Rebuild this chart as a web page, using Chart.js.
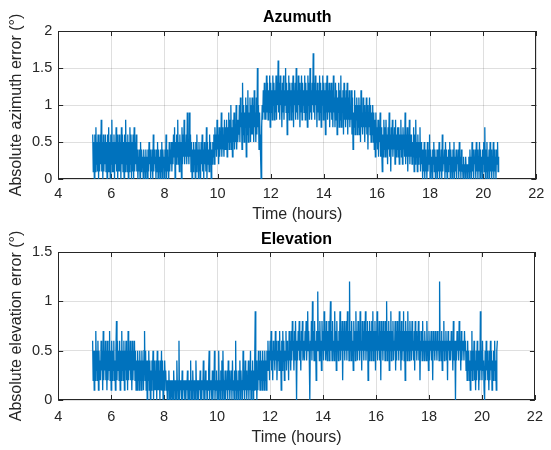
<!DOCTYPE html>
<html>
<head>
<meta charset="utf-8">
<script src="https://cdn.jsdelivr.net/npm/chart.js@4.4.1/dist/chart.umd.min.js"></script>
<style>
body { margin: 0; background: #fff; }
#wrap { position: relative; width: 551px; height: 450px; }
canvas { position: absolute; left: 0; }
</style>
</head>
<body>
<div id="wrap">
    <canvas id="azChart" width="551" height="225" style="top:0px"></canvas>
    <canvas id="elChart" width="551" height="225" style="top:225px"></canvas>
</div>
<script>
// time axis: one sample every 0.02 h from 5.3 h
const tStart = 5.3;
const tStep = 0.02;
const xTicks = [4, 6, 8, 10, 12, 14, 16, 18, 20, 22];
const azTicks = [0, 0.5, 1, 1.5, 2];
const elTicks = [0, 0.5, 1, 1.5];

// absolute azimuth error (deg), one row per half hour starting 5.3, 5.8, 6.3 ...
const azimuthErr = [
    0.6,0.1,0.5,0.0,0.6,0.1,0.7,0.2,0.5,0.1,0.6,0.0,0.5,0.1,0.6,0.2,0.8,0.1,0.5,0.0,0.6,0.1,0.5,0.2,0.6,
    0.1,0.5,0.0,0.6,0.1,0.7,0.1,0.5,0.0,0.6,0.2,0.8,0.1,0.5,0.1,0.6,0.0,0.5,0.2,0.7,0.1,0.6,0.0,0.5,0.1,
    0.6,0.1,0.5,0.0,0.7,0.2,0.6,0.1,0.5,0.0,0.6,0.1,0.8,0.2,0.5,0.1,0.6,0.0,0.5,0.1,0.7,0.2,0.6,0.0,0.5,
    0.1,0.6,0.0,0.7,0.1,0.5,0.2,0.6,0.1,0.4,0.0,0.3,0.1,0.4,0.0,0.5,0.1,0.4,0.2,0.3,0.0,0.4,0.1,0.3,0.0,
    0.4,0.1,0.3,0.0,0.4,0.1,0.5,0.2,0.4,0.0,0.3,0.1,0.4,0.0,0.6,0.1,0.4,0.2,0.3,0.0,0.4,0.1,0.5,0.0,0.4,
    0.1,0.3,0.0,0.4,0.1,0.5,0.0,0.4,0.2,0.3,0.0,0.4,0.1,0.6,0.0,0.4,0.1,0.3,0.0,0.5,0.1,0.4,0.2,0.5,0.1,
    0.5,0.2,0.6,0.3,0.7,0.0,0.5,0.2,0.6,0.3,0.8,0.2,0.5,0.1,0.6,0.3,0.5,0.0,0.7,0.2,0.6,0.3,0.8,0.2,0.5,
    0.3,0.6,0.2,0.9,0.3,0.5,0.2,0.9,0.3,0.6,0.1,0.5,0.0,0.4,0.1,0.5,0.2,0.4,0.0,0.5,0.1,0.6,0.2,0.4,0.0,
    0.5,0.1,0.4,0.0,0.5,0.2,0.6,0.1,0.4,0.0,0.5,0.2,0.4,0.1,0.7,0.0,0.5,0.2,0.4,0.1,0.6,0.2,0.5,0.0,0.4,
    0.2,0.5,0.3,0.6,0.2,0.7,0.4,0.6,0.3,0.8,0.4,0.6,0.2,0.7,0.3,0.6,0.4,0.9,0.3,0.7,0.4,0.6,0.3,0.8,0.4,
    0.7,0.4,0.8,0.3,0.7,0.5,0.9,0.4,0.8,0.5,1.0,0.4,0.7,0.3,0.8,0.5,0.9,0.4,0.7,0.5,1.0,0.4,0.8,0.5,0.7,
    0.6,1.0,0.5,1.1,0.7,0.9,0.4,1.3,0.6,1.0,0.5,0.9,0.7,1.1,0.3,1.0,0.6,1.2,0.5,0.9,0.7,1.1,0.5,1.0,0.6,
    1.1,0.6,1.0,0.5,1.2,0.7,0.9,0.5,1.1,0.6,1.5,0.7,1.0,0.4,0.9,0.6,0.3,0.0,0.7,1.0,0.8,1.2,0.9,1.3,0.8,
    1.2,0.8,1.4,0.9,1.3,0.8,1.2,0.9,1.4,0.7,1.3,0.9,1.2,0.8,1.4,1.0,1.3,0.8,1.2,0.9,1.4,0.8,1.3,1.0,1.6,
    0.9,1.3,0.8,1.4,1.0,1.2,0.7,1.3,0.9,1.4,0.8,1.2,1.0,1.5,0.9,1.3,0.6,1.2,0.9,1.4,0.8,1.3,1.0,1.2,0.8,
    1.3,0.9,1.4,0.7,1.2,1.0,1.3,0.8,1.5,0.9,1.2,0.8,1.4,1.0,1.3,0.7,1.2,0.9,1.4,0.8,1.3,1.0,1.2,0.9,1.4,
    0.8,1.3,0.9,1.2,0.7,1.4,1.0,1.3,0.8,1.5,0.9,1.2,0.8,1.3,1.0,1.7,0.9,1.3,0.8,1.4,1.0,1.2,0.7,1.3,0.9,
    1.2,0.8,1.4,0.9,1.3,0.7,1.2,1.0,1.4,0.8,1.3,0.9,1.2,0.6,1.3,0.9,1.4,0.8,1.2,0.9,1.3,0.7,1.2,0.9,1.3,
    0.8,1.2,0.7,1.4,0.9,1.1,0.7,1.3,0.8,1.2,0.6,1.1,0.9,1.3,0.7,1.2,0.8,1.4,0.7,1.1,0.9,1.2,0.6,1.3,0.8,
    1.1,0.7,1.2,0.8,1.3,0.6,1.1,0.8,1.2,0.7,1.0,0.8,1.2,0.6,1.1,0.4,0.9,0.7,1.2,0.6,1.0,0.8,1.1,0.6,1.0,
    0.7,1.1,0.6,1.0,0.5,1.2,0.7,0.9,0.6,1.1,0.7,1.0,0.5,0.9,0.7,1.1,0.6,1.0,0.4,0.9,0.7,1.1,0.6,1.0,0.5,
    0.9,0.6,1.0,0.5,0.9,0.4,0.8,0.3,0.9,0.5,0.7,0.4,0.8,0.3,0.7,0.5,0.9,0.3,0.7,0.4,0.1,0.6,0.3,0.8,0.4,
    0.7,0.3,0.8,0.4,0.6,0.2,0.7,0.4,0.9,0.3,0.6,0.1,0.7,0.4,0.8,0.3,0.6,0.4,0.7,0.2,0.8,0.3,0.6,0.4,0.7,
    0.3,0.7,0.2,0.6,0.4,0.8,0.3,0.6,0.2,0.7,0.4,0.6,0.3,0.9,0.2,0.6,0.3,0.7,0.1,0.6,0.3,0.8,0.2,0.6,0.3,
    0.6,0.2,0.5,0.3,0.7,0.1,0.6,0.2,0.8,0.3,0.5,0.1,0.6,0.2,0.5,0.3,0.7,0.1,0.5,0.2,0.4,0.0,0.4,0.1,0.5,
    0.0,0.4,0.1,0.3,0.0,0.5,0.1,0.4,0.2,0.6,0.0,0.4,0.1,0.3,0.0,0.4,0.2,0.5,0.1,0.4,0.0,0.3,0.1,0.4,0.0,
    0.4,0.1,0.5,0.0,0.3,0.1,0.4,0.0,0.6,0.1,0.3,0.2,0.4,0.0,0.5,0.1,0.4,0.0,0.3,0.1,0.4,0.2,0.5,0.0,0.4,
    0.1,0.3,0.0,0.4,0.1,0.5,0.0,0.3,0.1,0.4,0.0,0.3,0.2,0.4,0.0,0.5,0.1,0.3,0.0,0.4,0.1,0.2,0.0,0.3,0.1,
    0.2,0.0,0.3,0.1,0.2,0.0,0.2,0.1,0.3,0.0,0.4,0.1,0.3,0.0,0.5,0.1,0.4,0.0,0.3,0.2,0.4,0.0,0.5,0.1,0.4,
    0.0,0.3,0.1,0.5,0.0,0.4,0.1,0.3,0.0,0.4,0.2,0.5,0.1,0.7,0.0,0.4,0.1,0.5,0.0,0.3,0.1,0.4,0.0,0.5,0.1,
    0.4,0.0,0.3,0.1,0.5,0.0,0.4,0.1,0.3,0.0,0.4,0.2,0.5,0.1,0.3
];

// absolute elevation error (deg), same rows
const elevationErr = [
    0.6,0.2,0.5,0.1,0.5,0.2,0.7,0.3,0.5,0.2,0.6,0.1,0.5,0.2,0.4,0.2,0.6,0.3,0.5,0.1,0.7,0.2,0.5,0.3,0.6,
    0.2,0.5,0.1,0.6,0.2,0.5,0.3,0.7,0.2,0.5,0.1,0.6,0.2,0.5,0.3,0.6,0.2,0.4,0.1,0.5,0.8,0.2,0.6,0.3,0.5,
    0.2,0.6,0.1,0.5,0.2,0.7,0.3,0.5,0.2,0.6,0.1,0.5,0.3,0.6,0.2,0.5,0.1,0.7,0.2,0.5,0.3,0.6,0.2,0.5,0.1,
    0.6,0.2,0.5,0.3,0.6,0.2,0.5,0.1,0.4,0.1,0.5,0.2,0.4,0.1,0.5,0.2,0.4,0.1,0.5,0.2,0.4,0.1,0.5,0.7,0.2,
    0.5,0.1,0.4,0.0,0.4,0.2,0.5,0.1,0.4,0.0,0.3,0.1,0.4,0.2,0.5,0.0,0.4,0.1,0.3,0.1,0.4,0.0,0.5,0.1,0.4,
    0.1,0.3,0.0,0.4,0.1,0.5,0.1,0.4,0.0,0.3,0.1,0.4,0.2,0.3,0.1,0.2,0.0,0.2,0.1,0.3,0.0,0.2,0.0,0.2,0.1,
    0.0,0.2,0.0,0.3,0.1,0.2,0.0,0.2,0.0,0.4,0.1,0.2,0.0,0.6,0.0,0.2,0.1,0.2,0.0,0.3,0.0,0.2,0.1,0.2,0.0,
    0.2,0.0,0.2,0.1,0.3,0.0,0.2,0.0,0.2,0.1,0.4,0.0,0.2,0.0,0.3,0.1,0.2,0.0,0.2,0.0,0.4,0.1,0.2,0.0,0.2,
    0.0,0.2,0.1,0.3,0.0,0.2,0.0,0.2,0.1,0.4,0.0,0.2,0.0,0.3,0.1,0.2,0.0,0.2,0.1,0.3,0.5,0.0,0.2,0.1,0.2,
    0.0,0.3,0.0,0.2,0.1,0.5,0.0,0.2,0.1,0.3,0.0,0.2,0.0,0.5,0.1,0.2,0.0,0.3,0.1,0.4,0.0,0.5,0.1,0.2,0.0,
    0.3,0.0,0.2,0.1,0.3,0.0,0.4,0.1,0.3,0.0,0.2,0.1,0.3,0.0,0.4,0.1,0.2,0.0,0.3,0.1,0.6,0.0,0.3,0.1,0.2,
    0.0,0.3,0.1,0.4,0.0,0.3,0.1,0.2,0.0,0.5,0.1,0.3,0.0,0.4,0.1,0.3,0.0,0.2,0.1,0.4,0.0,0.3,0.1,0.5,0.0,
    0.3,0.1,0.4,0.0,0.3,0.1,0.4,0.9,0.1,0.4,0.0,0.3,0.1,0.5,0.2,0.4,0.1,0.5,0.2,0.4,0.1,0.5,0.2,0.4,0.1,
    0.5,0.2,0.4,0.1,0.5,0.3,0.6,0.3,0.5,0.2,0.6,0.4,0.7,0.3,0.5,0.2,0.6,0.4,0.5,0.3,0.7,0.4,0.6,0.2,0.5,
    0.4,0.6,0.3,0.7,0.4,0.5,0.1,0.6,0.3,0.7,0.4,0.6,0.2,0.5,0.4,0.7,0.3,0.6,0.4,0.5,0.2,0.7,0.4,0.6,0.3,
    0.7,0.4,0.8,0.5,0.6,0.3,0.7,0.4,0.8,0.5,0.0,0.6,0.4,0.7,0.5,0.8,0.4,0.6,0.3,0.7,0.5,0.8,0.4,0.6,0.5,
    0.4,0.7,0.5,0.8,0.4,0.6,0.9,0.5,0.7,0.4,0.0,0.6,0.5,0.8,0.4,1.0,0.5,0.7,0.4,0.8,0.5,0.6,0.2,0.7,0.5,
    1.1,0.5,0.7,0.4,0.8,0.5,0.6,0.3,0.8,0.5,0.7,0.4,0.9,0.5,0.7,0.4,0.8,0.6,0.4,0.7,0.5,0.8,0.4,0.7,1.0,
    0.5,0.7,0.4,0.8,0.5,0.6,0.4,0.9,0.5,0.7,0.3,0.8,0.5,0.6,0.4,0.7,0.5,0.9,0.4,0.7,0.5,0.8,0.2,0.7,0.5,
    0.8,0.4,0.7,0.5,0.8,0.4,0.9,0.5,0.7,0.4,1.2,0.5,0.7,0.4,0.8,0.5,0.6,0.3,0.8,0.5,0.7,0.4,0.9,0.5,0.7,
    0.4,0.8,0.5,0.7,0.4,0.9,0.5,0.6,0.3,0.8,0.5,0.7,0.4,0.8,0.5,0.9,0.4,0.7,0.5,0.8,0.2,0.7,0.4,0.8,0.5,
    0.7,0.4,0.8,0.5,0.9,0.4,0.7,0.5,0.8,0.3,0.7,0.5,0.9,0.4,0.6,0.5,0.8,0.4,0.7,0.2,0.8,0.5,0.7,0.4,0.8,
    0.5,0.7,0.4,0.8,0.5,1.0,0.4,0.7,0.5,0.8,0.3,0.7,0.5,0.9,0.4,0.7,0.5,0.8,0.4,0.6,0.5,0.8,0.3,0.7,0.4,
    0.8,0.5,0.7,0.4,0.9,0.5,0.7,0.3,0.8,0.4,0.7,0.5,0.9,0.4,0.7,0.2,0.8,0.5,0.7,0.4,0.9,0.5,0.7,0.4,0.8,
    0.5,0.7,0.4,0.8,0.5,0.6,0.4,0.7,0.3,0.8,0.5,0.7,0.4,0.6,0.5,0.8,0.4,0.7,0.2,0.6,0.5,0.7,0.4,0.8,0.5,
    0.6,0.4,0.7,0.5,0.6,0.4,0.8,0.5,0.6,0.3,0.7,0.4,0.6,0.5,0.7,0.4,0.6,0.2,0.7,0.5,0.6,0.4,0.7,0.5,0.6,
    0.4,0.7,0.5,0.6,0.4,1.2,0.5,0.6,0.4,0.7,0.3,0.6,0.5,0.8,0.4,0.6,0.5,0.7,0.4,0.6,0.2,0.7,0.5,0.6,0.4,
    0.6,0.4,0.7,0.5,0.6,0.3,0.8,0.4,0.6,0.5,0.0,0.6,0.4,0.7,0.5,0.6,0.4,0.8,0.5,0.6,0.3,0.7,0.4,0.6,0.5,
    0.6,0.4,0.7,0.5,0.6,0.3,0.5,0.2,0.6,0.3,0.5,0.2,0.4,0.1,0.5,0.3,0.7,0.2,0.5,0.3,0.6,0.2,0.4,0.1,0.5,
    0.2,0.6,0.3,0.5,0.1,0.4,0.2,0.9,0.3,0.5,0.2,0.6,0.3,0.4,0.1,0.0,0.5,0.2,0.6,0.3,0.5,0.2,0.4,0.1,0.5,
    0.2,0.6,0.3,0.5,0.1,0.4,0.2,0.5,0.3,0.6,0.2,0.4,0.1,0.5,0.6
];

const FONT = "'Liberation Sans', Arial, sans-serif";
const INK = '#262626';

// matlab style box with inner tick marks on all four sides
const boxPlugin = {
    id: 'mbox',
    beforeDatasetsDraw(chart) {
        const { ctx, chartArea: a, scales } = chart;
        const tl = 5;
        ctx.save();
        ctx.strokeStyle = INK;
        ctx.lineWidth = 1;
        ctx.beginPath();
        scales.x.ticks.forEach(t => {
            let px = Math.round(scales.x.getPixelForValue(t.value)) + 0.5;
            ctx.moveTo(px, a.bottom); ctx.lineTo(px, a.bottom - tl);
            ctx.moveTo(px, a.top); ctx.lineTo(px, a.top + tl);
        });
        scales.y.ticks.forEach(t => {
            let py = Math.round(scales.y.getPixelForValue(t.value)) + 0.5;
            ctx.moveTo(a.left, py); ctx.lineTo(a.left + tl, py);
            ctx.moveTo(a.right, py); ctx.lineTo(a.right - tl, py);
        });
        ctx.stroke();
        ctx.strokeRect(Math.round(a.left) + 0.5, Math.round(a.top) + 0.5,
            Math.round(a.width) - 1, Math.round(a.height) - 1);
        ctx.restore();
    }
};

const toPoints = function(values) {
    return values.map((v, i) => ({ x: tStart + i * tStep, y: v }));
};

const makeChart = function(id, values, yTicks, title, yTitle, g) {
    const ctx = document.getElementById(id).getContext('2d');
    return new Chart(ctx, {
        type: 'line',
        data: {
            datasets: [{
                data: toPoints(values),
                borderColor: '#0072BD',
                borderWidth: 1.3,
                pointRadius: 0,
                tension: 0
            }]
        },
        options: {
            responsive: false,
            animation: false,
            events: [],
            layout: { padding: { left: 0, right: 7.7, top: 0, bottom: 0 } },
            plugins: {
                legend: { display: false },
                tooltip: { enabled: false },
                title: {
                    display: true,
                    text: title,
                    fullSize: false,
                    color: '#000',
                    font: { family: FONT, size: 16, weight: 'bold', lineHeight: 1.2 },
                    padding: { top: g.titleTop, bottom: g.titleBottom }
                }
            },
            scales: {
                x: {
                    type: 'linear',
                    min: 4,
                    max: 22,
                    afterBuildTicks: s => { s.ticks = xTicks.map(v => ({ value: v })); },
                    afterFit: s => { s.height = g.xHeight; },
                    grid: { color: 'rgba(38,38,38,0.15)', drawTicks: false },
                    border: { display: false },
                    ticks: {
                        color: INK,
                        padding: g.tickPad,
                        maxRotation: 0,
                        font: { family: FONT, size: 14.5, lineHeight: 1.2 }
                    },
                    title: {
                        display: true,
                        text: 'Time (hours)',
                        color: INK,
                        font: { family: FONT, size: 16, lineHeight: 1.2 },
                        padding: { top: 0, bottom: g.xTitleBottom }
                    }
                },
                y: {
                    min: 0,
                    max: yTicks[yTicks.length - 1],
                    afterBuildTicks: s => { s.ticks = yTicks.map(v => ({ value: v })); },
                    afterFit: s => { s.width = 58.2; },
                    grid: { color: 'rgba(38,38,38,0.15)', drawTicks: false },
                    border: { display: false },
                    ticks: {
                        color: INK,
                        padding: 6,
                        font: { family: FONT, size: 14.5, lineHeight: 1.2 },
                        callback: v => String(v)
                    },
                    title: {
                        display: true,
                        text: yTitle,
                        color: INK,
                        font: { family: FONT, size: 16, lineHeight: 1.2 },
                        padding: { top: 7.4, bottom: 0 }
                    }
                }
            }
        },
        plugins: [boxPlugin]
    });
};

makeChart('azChart', azimuthErr, azTicks, 'Azumuth', 'Absolute azimuth error (°)',
    { titleTop: 8.4, titleBottom: 3.4, xHeight: 46, tickPad: 6.6, xTitleBottom: 0.4 });
makeChart('elChart', elevationErr, elTicks, 'Elevation', 'Absolute elevation error (°)',
    { titleTop: 5.4, titleBottom: 2.4, xHeight: 50, tickPad: 8, xTitleBottom: 2.4 });
</script>
</body>
</html>
